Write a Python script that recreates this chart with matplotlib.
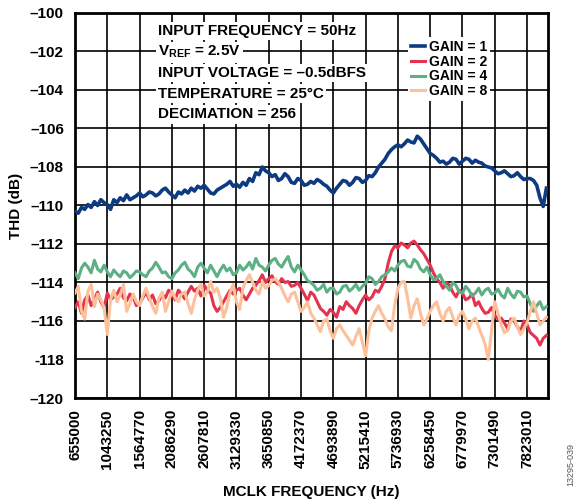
import matplotlib
matplotlib.use("Agg")
import matplotlib.pyplot as plt
import numpy as np

plt.rcParams['font.family'] = ['Liberation Sans', 'DejaVu Sans']
plt.rcParams['font.weight'] = 'bold'
plt.rcParams['mathtext.fontset'] = 'custom'
plt.rcParams['mathtext.rm'] = 'Liberation Sans:bold'
plt.rcParams['mathtext.bf'] = 'Liberation Sans:bold'

# tick labels (MCLK frequency, Hz), evenly spaced on the plot
freq_labels = ["655000", "1043250", "1564770", "2086290", "2607810",
               "3129330", "3650850", "4172370", "4693890", "5215410",
               "5736930", "6258450", "6779970", "7301490", "7823010"]
y_ticks = [-100, -102, -104, -106, -108, -110, -112, -114, -116, -118, -120]
y_labels = ["\u2013100", "\u2013102", "\u2013104", "\u2013106", "\u2013108",
            "\u2013110", "\u2013112", "\u2013114", "\u2013116", "-118", "\u2013120"]

# THD (dB), one reading every 0.1 tick spacing
gain1 = [-110.3, -110.4, -110.1, -110.2, -109.95, -110.1, -109.8, -110.0, -109.7, -109.85,
         -109.95, -110.2, -109.7, -109.85, -109.6, -109.75, -109.45, -109.7, -109.6, -109.5,
         -109.35, -109.55, -109.45, -109.3, -109.35, -109.5, -109.4, -109.2, -109.1, -109.3,
         -109.45, -109.6, -109.3, -109.4, -109.2, -109.35, -109.1, -109.25, -109.0, -109.1,
         -108.95, -109.15, -109.35, -109.4, -109.2, -109.1, -109.0, -108.9, -108.75, -109.0,
         -108.9, -109.05, -108.8, -108.95, -108.6, -108.75, -108.3, -108.4, -108.0, -108.2,
         -108.3, -108.5, -108.4, -108.7, -108.6, -108.35, -108.5, -108.8, -108.85, -108.6,
         -108.7, -108.95, -108.9, -108.75, -108.85, -108.65, -108.75, -108.9, -109.0, -109.2,
         -109.35, -109.1, -108.9, -108.7, -108.75, -108.95, -108.8, -108.55, -108.6, -108.8,
         -108.7, -108.45, -108.5, -108.3, -108.0, -107.8, -107.6, -107.3, -107.1, -106.95,
         -106.85, -106.95, -106.8, -106.6, -106.7, -106.75, -106.4, -106.55, -106.8, -107.05,
         -107.3, -107.4, -107.55, -107.75, -107.7, -107.85, -107.75, -107.55, -107.6, -107.85,
         -107.7, -107.55, -107.6, -107.8, -107.65, -107.75, -107.8, -107.95, -108.0, -108.05,
         -108.2, -108.35, -108.3, -108.2, -108.35, -108.5, -108.45, -108.3, -108.5, -108.65,
         -108.6, -108.6, -108.7, -108.95, -109.6, -110.05, -109.1]
gain2 = [-115.3, -115.0, -115.6, -114.9, -114.65, -115.2, -114.85, -114.5, -115.0, -115.3,
         -114.55, -114.9, -114.75, -114.6, -114.3, -114.8, -114.95, -114.6, -114.75, -115.2,
         -115.1, -114.8, -114.5, -114.9, -114.65, -115.1, -114.95, -114.6, -114.8, -114.4,
         -114.55, -114.9, -114.4, -114.6, -114.85, -114.5, -114.2, -114.45, -114.3, -114.7,
         -114.15, -114.4, -114.55, -115.2, -115.5, -115.3, -115.0, -114.7, -114.4, -114.6,
         -114.4, -114.3, -114.65, -114.9, -114.6, -114.3, -114.15, -113.9, -113.6, -114.0,
         -113.8, -113.65, -113.95, -114.1, -113.8, -114.0, -113.95, -114.2, -114.15, -114.0,
         -114.3, -114.6, -114.95, -114.5, -114.65, -115.0, -115.35, -115.5, -115.7, -115.4,
         -115.55, -115.8, -115.25, -115.4, -115.0, -115.2, -115.35, -115.6, -115.2, -114.9,
         -114.65, -114.9, -114.75, -114.4, -114.5, -114.2, -113.8, -113.0, -112.4, -112.1,
         -112.2, -111.95, -112.05, -112.2, -111.95, -111.85, -112.05, -112.3, -112.5, -112.8,
         -113.1, -113.5, -113.8, -114.0, -114.3, -114.0, -114.15, -114.5, -114.75, -114.4,
         -114.55, -114.9, -114.8, -114.6, -115.2, -115.0, -115.35, -115.6, -115.55, -115.3,
         -115.7, -115.9, -115.85, -116.1, -116.4, -115.9, -116.0, -116.3, -116.55, -116.0,
         -116.2, -116.6, -116.75, -116.9, -117.25, -116.9, -116.75]
gain4 = [-113.5, -113.8, -113.25, -113.0, -113.2, -113.5, -112.85, -113.3, -113.45, -113.1,
         -113.45, -113.7, -113.35, -113.55, -113.7, -113.4, -113.5, -113.75, -113.6, -113.4,
         -113.45, -113.6, -113.7, -113.4, -113.25, -112.95, -113.2, -113.5, -113.45, -113.7,
         -113.8, -113.5, -113.35, -113.1, -112.95, -113.3, -113.45, -113.7, -113.2, -113.0,
         -113.25, -113.5, -113.1, -113.4, -113.7, -113.35, -113.1, -113.4, -113.25, -113.6,
         -113.5, -113.1, -113.35, -113.2, -112.95, -113.3, -112.75, -113.1, -113.2, -113.4,
         -113.1, -112.85, -112.75, -113.05, -113.2, -112.9, -112.65, -113.2, -113.45, -113.1,
         -113.35, -113.6, -113.9, -114.0, -114.15, -114.4, -114.3, -114.1, -114.5, -114.3,
         -114.3, -114.6, -114.5, -114.2, -114.15, -114.45, -114.3, -114.1, -114.4, -114.2,
         -114.05, -113.7, -113.8, -114.1, -113.95, -113.7, -113.6, -113.45, -113.25, -113.4,
         -113.1, -112.9, -112.85, -113.15, -113.2, -112.8, -112.95, -113.3, -113.45, -113.2,
         -113.6, -113.85, -113.8, -113.6, -113.95, -114.2, -114.4, -114.0, -114.15, -114.5,
         -114.55, -114.2, -114.4, -114.7, -114.55, -114.3, -114.65, -114.4, -114.3, -114.6,
         -114.55, -114.35, -114.65, -114.8, -114.3, -114.6, -114.8, -114.45, -114.5, -114.75,
         -114.7, -115.1, -115.5, -115.2, -115.0, -115.4, -115.25]
gain8 = [-114.55, -114.2, -115.5, -115.9, -114.45, -114.1, -115.25, -114.6, -114.9, -115.3,
         -116.7, -114.9, -114.4, -115.0, -114.65, -114.1, -115.5, -115.1, -114.6, -115.0,
         -115.2, -114.7, -114.3, -114.8, -115.25, -115.6, -114.8, -114.5, -115.5, -115.0,
         -114.45, -114.8, -115.0, -114.6, -114.5, -115.1, -115.6, -114.9, -114.4, -114.1,
         -114.7, -114.5, -113.95, -114.5, -114.3, -114.8, -115.8, -115.3, -114.5, -114.1,
         -115.0, -115.4, -114.3, -113.9, -113.6, -114.0, -114.4, -114.6, -113.95, -114.3,
         -114.15, -113.9, -113.8, -114.0, -114.3, -114.7, -115.0, -114.6, -114.5, -115.0,
         -115.5, -115.3, -115.0, -115.6, -115.85, -116.2, -116.55, -116.0, -115.9, -116.5,
         -116.9, -116.4, -116.2, -116.5, -116.75, -117.0, -117.25, -116.8, -116.4, -117.1,
         -117.8, -116.5, -115.85, -115.5, -115.2, -115.6, -115.9, -116.3, -116.5, -115.2,
         -114.3, -114.0, -113.95, -114.8, -115.85, -115.2, -114.85, -115.6, -116.2, -115.9,
         -115.5, -115.2, -115.0, -115.6, -116.0, -115.5, -115.3, -115.8, -116.2, -115.7,
         -115.5, -115.9, -116.4, -116.0, -115.85, -116.3, -116.75, -117.2, -118.0, -116.5,
         -115.0, -115.6, -116.2, -116.6, -116.5, -116.0, -115.85, -116.3, -116.7, -116.4,
         -116.1, -115.5, -115.0, -115.6, -116.2, -116.0, -115.8]

series = [("GAIN = 1", gain1, '#0d3a80', 2.6),
          ("GAIN = 2", gain2, '#e3334f', 2.2),
          ("GAIN = 4", gain4, '#5cb084', 2.2),
          ("GAIN = 8", gain8, '#fcc09a', 2.2)]

fig = plt.figure(figsize=(5.87, 4.99), dpi=100)
ax = fig.add_axes([0.1278, 0.2024, 0.8058, 0.7716])

for label, vals, color, lw in series:
    x = np.arange(len(vals)) * 0.1
    ax.plot(x, vals, color=color, lw=lw, label=label, zorder=3)

ax.set_xlim(0, 14.65)
ax.set_ylim(-120, -100)
ax.set_xticks(range(len(freq_labels)))
ax.set_xticklabels(freq_labels, rotation=90, fontsize=11, fontweight='bold')
ax.set_yticks(y_ticks)
ax.set_yticklabels(y_labels, fontsize=11, fontweight='bold')
ax.tick_params(length=0, pad=8)
ax.grid(True, color='black', lw=1.2, zorder=1)
for s in ax.spines.values():
    s.set_linewidth(2)
ax.set_xlabel("MCLK FREQUENCY (Hz)", fontsize=11, fontweight='bold', labelpad=12)
ax.set_ylabel("THD (dB)", fontsize=11, fontweight='bold', labelpad=5)

notes = ["INPUT FREQUENCY = 50Hz", r"V$_{\mathbf{REF}}$ = 2.5V",
         "INPUT VOLTAGE = \u20130.5dBFS", "TEMPERATURE = 25\u00b0C",
         "DECIMATION = 256"]
for i, t in enumerate(notes):
    ax.text(2.57, -100.95 - i * 1.08, t, fontsize=11, fontweight='bold', va='center',
            ha='left', zorder=5,
            bbox=dict(facecolor='white', edgecolor='none', pad=1.5))

leg = ax.legend(loc='upper left', bbox_to_anchor=(0.69, 0.955), frameon=True,
                fancybox=False, edgecolor='none', facecolor='white', framealpha=1,
                fontsize=10, handlelength=1.0, handletextpad=0.3, labelspacing=0.05,
                borderpad=0.2)
leg.set_zorder(6)
for t in leg.get_texts():
    t.set_fontweight('bold')

fig.text(0.973, 0.07, "13295-039", rotation=90, fontsize=6.5, color='#555555',
         ha='center', va='center', fontweight='normal')

fig.savefig("out.png", dpi=100)
